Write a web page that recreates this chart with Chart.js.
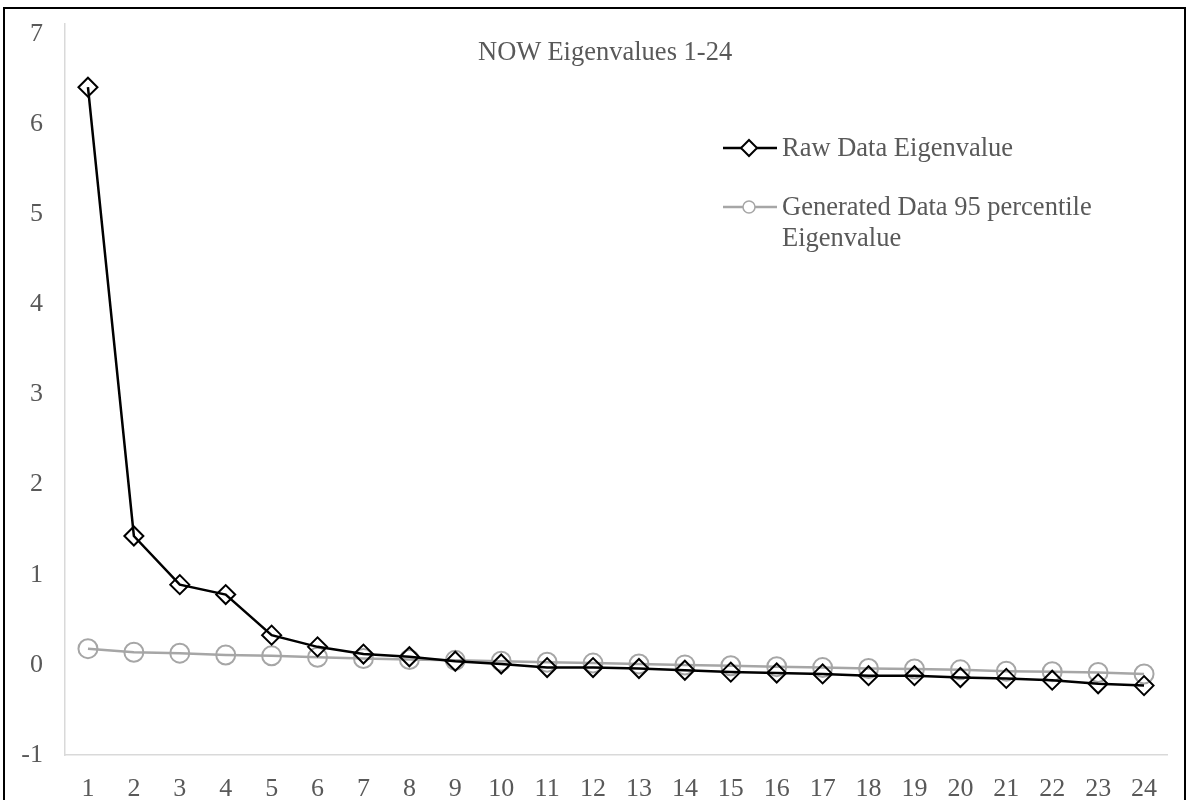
<!DOCTYPE html>
<html>
<head>
<meta charset="utf-8">
<script src="https://cdn.jsdelivr.net/npm/chart.js@4/dist/chart.umd.min.js"></script>
<style>
  html, body { margin: 0; padding: 0; background: #fff; }
  #wrap { position: relative; width: 1187px; height: 800px; overflow: hidden; }
  #frame { position: absolute; left: 3px; top: 7px; width: 1179px; height: 820px;
           border: 2.5px solid #000; box-sizing: content-box; pointer-events: none; }
  #c { position: absolute; left: 0; top: 0; }
  .txt { position: absolute; font-family: 'Liberation Serif', 'Times New Roman', serif;
         font-size: 26.5px; color: #595959; white-space: nowrap; }
  #title { left: 478px; top: 36px; line-height: 31px; }
  #leg1 { left: 782px; top: 132px; line-height: 31px; }
  #leg2 { left: 782px; top: 191px; line-height: 31px; }
  svg.sym { position: absolute; }
</style>
</head>
<body>
<div id="wrap">
  <canvas id="c" width="1187" height="800"></canvas>
  <div id="frame"></div>
  <div id="title" class="txt">NOW Eigenvalues 1-24</div>
  <svg class="sym" style="left:720px;top:133px" width="60" height="30">
    <line x1="3" y1="15" x2="57" y2="15" stroke="#000" stroke-width="2.5"/>
    <polygon points="29,7 37,15 29,23 21,15" fill="#fff" stroke="#000" stroke-width="2"/>
  </svg>
  <div id="leg1" class="txt">Raw Data Eigenvalue</div>
  <svg class="sym" style="left:720px;top:192px" width="60" height="30">
    <line x1="3" y1="15" x2="57" y2="15" stroke="#a6a6a6" stroke-width="2.5"/>
    <circle cx="29" cy="15" r="6" fill="#fff" stroke="#a6a6a6" stroke-width="1.5"/>
  </svg>
  <div id="leg2" class="txt">Generated Data 95 percentile<br>Eigenvalue</div>
</div>
<script>
const categories = ['1','2','3','4','5','6','7','8','9','10','11','12','13','14','15','16','17','18','19','20','21','22','23','24'];
const rawEigen = [6.41, 1.43, 0.89, 0.78, 0.33, 0.20, 0.12, 0.09, 0.04, 0.01, -0.03, -0.03, -0.04, -0.06, -0.08, -0.09, -0.10, -0.12, -0.12, -0.14, -0.15, -0.17, -0.21, -0.23];
const generatedEigen = [0.18, 0.14, 0.13, 0.11, 0.10, 0.085, 0.07, 0.06, 0.05, 0.04, 0.03, 0.02, 0.01, 0.0, -0.01, -0.02, -0.03, -0.04, -0.045, -0.055, -0.07, -0.075, -0.085, -0.10];
const yTicks = [-1, 0, 1, 2, 3, 4, 5, 6, 7];
const seriesNames = ['Raw Data Eigenvalue', 'Generated Data 95 percentile Eigenvalue'];

const labelFont = { family: "'Liberation Serif', 'Times New Roman', serif", size: 26 };
const labelColor = '#595959';
const clear = 'rgba(0,0,0,0)';

new Chart(document.getElementById('c'), {
  type: 'line',
  data: {
    labels: categories,
    datasets: [
      {
        label: seriesNames[0],
        data: rawEigen,
        borderColor: '#000',
        borderWidth: 2.5,
        pointStyle: 'rectRot',
        pointRadius: 9.5,
        pointBorderWidth: 2,
        pointBorderColor: '#000',
        pointBackgroundColor: clear,
        tension: 0
      },
      {
        label: seriesNames[1],
        data: generatedEigen,
        borderColor: '#a6a6a6',
        borderWidth: 2.5,
        pointStyle: 'circle',
        pointRadius: 9.5,
        pointBorderWidth: 2,
        pointBorderColor: '#a6a6a6',
        pointBackgroundColor: clear,
        tension: 0
      }
    ]
  },
  options: {
    responsive: false,
    animation: false,
    devicePixelRatio: 1,
    layout: { padding: { top: 24, right: 20, left: 0, bottom: 0 } },
    plugins: { legend: { display: false }, title: { display: false }, tooltip: { enabled: false } },
    scales: {
      x: {
        type: 'category',
        offset: true,
        grid: { display: true, drawOnChartArea: false, drawTicks: true, tickLength: 19, color: clear, tickColor: clear, offset: false },
        border: { display: true, color: '#d9d9d9', width: 1.5 },
        ticks: { font: labelFont, color: labelColor, padding: 0, maxRotation: 0, autoSkip: false },
        afterFit: (s) => { s.height = 45; }
      },
      y: {
        min: yTicks[0],
        max: yTicks[yTicks.length - 1] + 10 / 90,
        grid: { display: true, drawOnChartArea: false, drawTicks: true, tickLength: 22, color: clear, tickColor: clear },
        border: { display: true, color: '#d9d9d9', width: 1.5 },
        afterBuildTicks: (s) => { s.ticks = yTicks.map(v => ({ value: v })); },
        ticks: { font: labelFont, color: labelColor, padding: 0, callback: (v) => String(v) },
        afterFit: (s) => { s.width = 65; }
      }
    }
  }
});
</script>
</body>
</html>
